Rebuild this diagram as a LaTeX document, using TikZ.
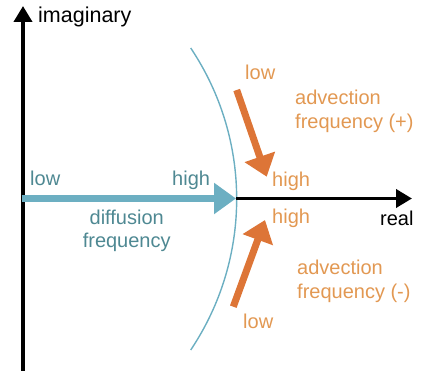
\documentclass[tikz,border=0pt]{standalone}
\usepackage{fontspec}
\setmainfont{Liberation Sans}
\usetikzlibrary{arrows.meta}
\definecolor{tealA}{RGB}{108,175,194}
\definecolor{tealT}{RGB}{78,136,146}
\definecolor{orA}{RGB}{221,117,55}
\definecolor{orT}{RGB}{226,152,82}
\begin{document}
\begin{tikzpicture}[x=1pt,y=-1pt,
  lbl/.style={inner sep=0pt, font=\fontsize{20}{24}\selectfont, anchor=base west},
  clbl/.style={lbl, anchor=base},
  axis/.style={line width=3.8pt, black, -{Triangle[length=16pt,width=18pt]}},
  diffarrow/.style={line width=7pt, tealA, -{Triangle[length=22pt,width=30pt]}},
  advarrow/.style={line width=7pt, orA, -{Triangle[length=21pt,width=31pt]}},
  curve/.style={line width=1.4pt, tealA}]
\useasboundingbox (0,0) rectangle (429,371);
% coordinates
\coordinate (O) at (23,371);
\coordinate (Ytop) at (23,6);
\coordinate (Xs) at (236,198.5);
\coordinate (Xe) at (412,198.5);
\coordinate (Ds) at (21.5,198.5);
\coordinate (De) at (236,198.5);
\coordinate (A1s) at (236.7,90);
\coordinate (A1e) at (266.7,176.7);
\coordinate (A2s) at (233.3,306.7);
\coordinate (A2e) at (265,220);
\coordinate (Ct) at (190.7,48);
\coordinate (Cb) at (190.7,350);
% curve
\draw[curve] (Ct) .. controls (252,139.6) and (252,258.4) .. (Cb);
% axes
\draw[axis] (O) -- (Ytop);
\draw[axis] (Xs) -- (Xe);
% arrows
\draw[diffarrow] (Ds) -- (De);
\draw[advarrow] (A1s) -- (A1e);
\draw[advarrow] (A2s) -- (A2e);
% labels
\node[lbl, font=\fontsize{21.5}{24}\selectfont] (imag) at (38,22.5) {imaginary};
\node[lbl] (real) at (380,226) {real};
\node[lbl, tealT] (dlow) at (30,186) {low};
\node[lbl, tealT] (dhigh) at (172,186) {high};
\node[clbl, tealT] (d1) at (126.7,225) {diffusion};
\node[clbl, tealT] (d2) at (126.7,247.3) {frequency};
\node[lbl, orT] (a1low) at (245,80) {low};
\node[lbl, orT] (a1t1) at (295,105) {advection};
\node[lbl, orT] (a1t2) at (295,128.3) {frequency (+)};
\node[lbl, orT] (a1high) at (272,186.7) {high};
\node[lbl, orT] (a2high) at (272,224) {high};
\node[lbl, orT] (a2t1) at (297,275) {advection};
\node[lbl, orT] (a2t2) at (297,298.3) {frequency (-)};
\node[lbl, orT] (a2low) at (243,328.3) {low};
\end{tikzpicture}
\end{document}
